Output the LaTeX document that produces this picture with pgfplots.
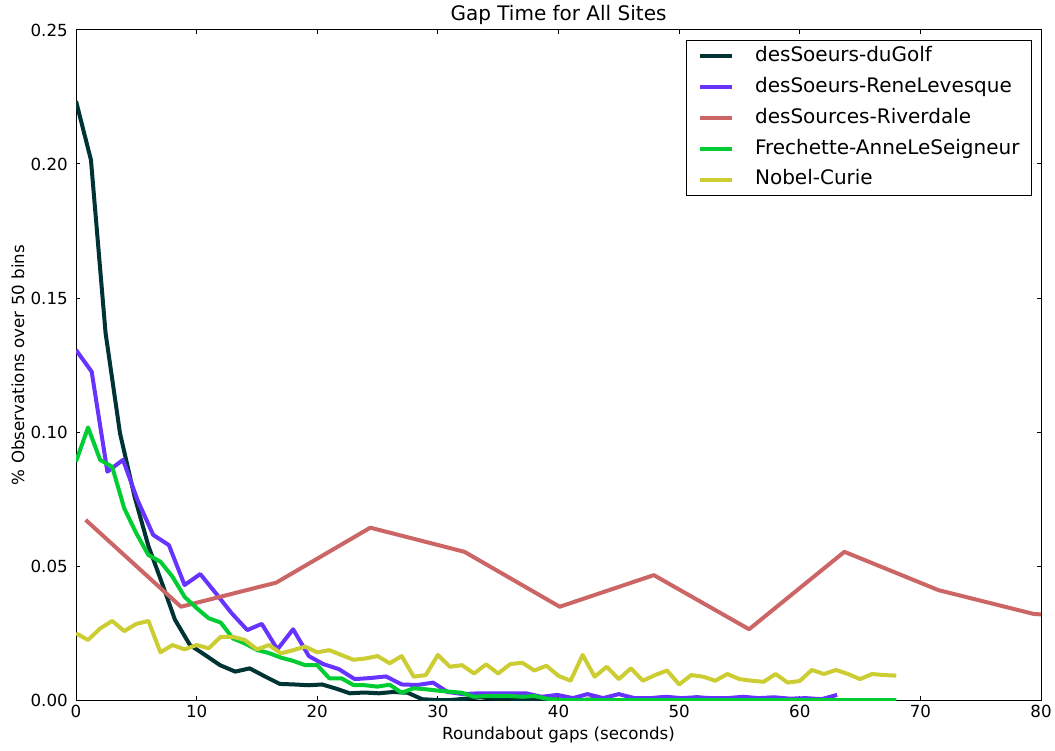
\documentclass[border=0pt]{standalone}
\usepackage{fontspec}
\setmainfont{DejaVu Sans}
\usepackage{pgfplots}
\pgfplotsset{compat=1.18}

\definecolor{cGolf}{HTML}{003333}
\definecolor{cRene}{HTML}{6633FF}
\definecolor{cRiver}{HTML}{CC6666}
\definecolor{cFrech}{HTML}{00CC33}
\definecolor{cNobel}{HTML}{CCCC33}

\begin{document}
\begin{tikzpicture}
\begin{axis}[
    name=ax,
    scale only axis,
    width=723.75pt, height=502.5pt,
    xmin=0, xmax=80, ymin=0, ymax=0.25,
    xtick={0,10,20,30,40,50,60,70,80},
    ytick={0,0.05,0.10,0.15,0.20,0.25},
    scaled y ticks=false,
    tick align=inside, tick pos=both,
    major tick length=3pt,
    axis line style={line width=0.75pt},
    every tick/.style={black, line width=0.75pt},
    /pgf/number format/assume math mode=true,
    yticklabel style={/pgf/number format/fixed, /pgf/number format/fixed zerofill,
        /pgf/number format/precision=2, inner sep=0pt, xshift=-6pt},
    xticklabel style={inner sep=0pt, yshift=-4pt},
    ticklabel style={font=\fontsize{12.5}{15}\selectfont},
    title={Gap Time for All Sites},
    every axis title/.style={at={(axis description cs:0.5,1.0224)}, anchor=center,
        inner sep=0pt, font=\fontsize{15}{18}\selectfont},
    xlabel={Roundabout gaps (seconds)},
    xlabel style={at={(axis description cs:0.5,-0.0522)}, anchor=center, inner sep=0pt,
        font=\fontsize{12.5}{15}\selectfont},
    ylabel={\% Observations over 50 bins},
    ylabel style={at={(axis description cs:-0.0601,0.5)}, anchor=center, inner sep=0pt,
        font=\fontsize{12.5}{15}\selectfont},
    legend image code/.code={\draw[#1, line width=3pt] (0pt,0pt) -- (24pt,0pt);},
    legend cell align=left,
    legend style={at={(rel axis cs:0.9907,0.985)}, anchor=north east,
        draw=black, line width=0.75pt,
        font=\fontsize{15}{18}\selectfont,
        inner xsep=9pt, inner ysep=4.5pt, row sep=8.7pt,
        nodes={inner sep=0pt, text height=11pt, text depth=3.5pt},
        /tikz/every odd column/.append style={column sep=15.5pt}},
    every axis plot/.append style={line width=3pt, line join=round},
]

\addplot[color=cGolf] coordinates {
(0,0.2235) (1.24,0.2015) (2.45,0.137) (3.65,0.0995) (4.85,0.0760) (6.0,0.0575)
(7.1,0.0440) (8.2,0.0300) (9.45,0.0205) (10.7,0.0168) (11.94,0.0130) (13.2,0.0106)
(14.4,0.0118) (15.7,0.0087) (16.9,0.0060) (18.1,0.0058) (19.3,0.0055) (20.4,0.0058)
(21.6,0.0042) (22.7,0.0025) (23.9,0.0028) (25.1,0.0025) (26.3,0.0030) (27.5,0.0027)
(28.7,0.0003) (29.9,0) (31.1,0) (32.3,0.0005) (33.5,0.001) (34.7,0.0005)
(35.9,0.0005) (37.1,0.0003) (38.3,0) (39.5,0.0003) (40.7,0) (41.9,0)
(43.1,0.0003) (44.3,0) (45.5,0) (46.7,0.0003) (47.9,0.0005) (49.1,0)
(50.3,0.0003) (51.5,0.001) (52.7,0.0003) (53.9,0) (55.1,0.0005) (56.3,0.0003)
(57.5,0.0008) (58.7,0.0003) (59.9,0) (61.1,0.0003) (62.3,0) (63.1,0)
};
\addlegendentry{desSoeurs-duGolf}

\addplot[color=cRene] coordinates {
(0,0.1306) (1.3,0.1225) (2.6,0.0852) (3.9,0.0896) (5.1,0.0746) (6.4,0.0616)
(7.7,0.0578) (9.0,0.0429) (10.3,0.047) (11.6,0.0398) (12.9,0.0324) (14.2,0.0261)
(15.4,0.0284) (16.7,0.0189) (18.0,0.0264) (19.3,0.0164) (20.5,0.0134) (21.8,0.0115)
(23.1,0.0078) (24.4,0.0082) (25.7,0.0088) (27.0,0.0058) (28.3,0.0056) (29.6,0.0065)
(30.8,0.003) (32.1,0.0022) (33.4,0.0025) (34.7,0.0025) (36.0,0.0025) (37.3,0.0025)
(38.6,0.0012) (39.9,0.0019) (41.2,0.0007) (42.4,0.0022) (43.7,0.0007) (45.0,0.0022)
(46.3,0.0007) (47.6,0.0007) (48.9,0.0012) (50.2,0.0007) (51.4,0.001) (52.7,0.0007)
(54.0,0.0007) (55.3,0.0012) (56.6,0.0007) (57.9,0.001) (59.2,0.0005) (60.5,0.0007)
(61.8,0.0003) (63.1,0.0019)
};
\addlegendentry{desSoeurs-ReneLevesque}

\addplot[color=cRiver] coordinates {
(0.8,0.0672) (8.7,0.0348) (16.6,0.0438) (24.4,0.0643) (32.2,0.0553) (40.1,0.0348)
(47.9,0.0466) (55.8,0.0264) (63.7,0.0553) (71.5,0.041) (79.4,0.0321) (87.3,0.030)
};
\addlegendentry{desSources-Riverdale}

\addplot[color=cFrech] coordinates {
(0,0.089) (1,0.1017) (2,0.0896) (3,0.087) (4,0.0715) (5,0.0622) (6,0.0541)
(7,0.0516) (8,0.046) (9,0.0385) (10,0.0343) (11,0.0305) (12,0.0289) (13,0.023)
(14,0.0211) (15,0.0187) (16,0.0175) (17,0.0158) (18,0.0146) (19,0.013) (20,0.013)
(21,0.0081) (22,0.0081) (23,0.0056) (24,0.0055) (25,0.005) (26,0.0057) (27,0.0027)
(28,0.0044) (29,0.004) (30,0.0035) (31,0.0031) (32,0.0027) (33,0.0012) (34,0.0015)
(35,0.0015) (36,0.0015) (37,0.0012) (38,0.0015) (39,0.0005) (40,0) (41,0) (42,0)
(43,0) (44,0) (45,0) (46,0) (47,0) (48,0) (49,0) (50,0) (51,0) (52,0) (53,0)
(54,0) (55,0) (56,0) (57,0) (58,0) (59,0) (60,0) (61,0) (62,0) (63,0) (64,0)
(65,0) (66,0) (67,0) (68,0)
};
\addlegendentry{Frechette-AnneLeSeigneur}

\addplot[color=cNobel] coordinates {
(0,0.0249) (1,0.0224) (2,0.0267) (3,0.0295) (4,0.0257) (5,0.0284) (6,0.0295)
(7,0.0178) (8,0.0205) (9,0.0189) (10,0.0205) (11,0.0193) (12,0.0236) (13,0.0236)
(14,0.0224) (15,0.0189) (16,0.0205) (17,0.0174) (18,0.0186) (19,0.0199) (20,0.0178)
(21,0.0186) (22,0.0168) (23,0.0150) (24,0.0155) (25,0.0164) (26,0.0137) (27,0.0164)
(28,0.0087) (29,0.0093) (30,0.0168) (31,0.0124) (32,0.013) (33,0.0099) (34,0.0133)
(35,0.0099) (36,0.0134) (37,0.0139) (38,0.011) (39,0.0128) (40,0.009) (41,0.0072)
(42,0.0168) (43,0.0087) (44,0.0124) (45,0.0078) (46,0.0118) (47,0.0072) (48,0.0093)
(49,0.011) (50,0.0058) (51,0.0093) (52,0.0087) (53,0.0072) (54,0.0097) (55,0.0078)
(56,0.0072) (57,0.0068) (58,0.0097) (59,0.0065) (60,0.0071) (61,0.0112) (62,0.0097)
(63,0.0112) (64,0.0097) (65,0.0078) (66,0.0097) (67,0.0093) (68,0.0091)
};
\addlegendentry{Nobel-Curie}

\end{axis}
\pgfresetboundingbox
\path ([xshift=-57pt,yshift=-37.5pt]ax.south west) rectangle ([xshift=10.5pt,yshift=22.5pt]ax.north east);
\end{tikzpicture}
\end{document}
